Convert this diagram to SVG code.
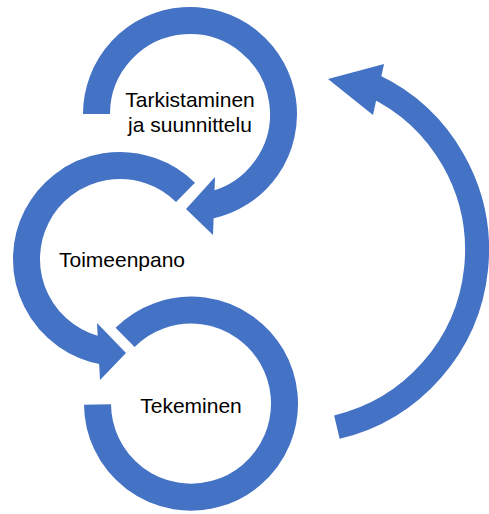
<svg xmlns="http://www.w3.org/2000/svg" width="489" height="514" viewBox="0 0 489 514">
<style>
.ring{fill:none;stroke:#4472C4;stroke-width:27;stroke-linecap:butt}
.big{fill:none;stroke:#4472C4;stroke-width:24;stroke-linecap:butt}
.head{fill:#4472C4}
.lbl{font-family:"Liberation Sans",Arial,sans-serif;font-size:21px;fill:#000;text-anchor:middle}
</style>
<rect width="489" height="514" fill="#fff"/>
<g id="node-tarkistaminen">
<path class="ring" d="M96.5,114 A93.5,93.5 0 1 1 209.4,205.5"/>
<polygon class="head" points="215,177 186,209 213,235"/>
<text class="lbl" x="190" y="107">Tarkistaminen</text>
<text class="lbl" x="190" y="132">ja suunnittelu</text>
</g>
<g id="node-toimeenpano">
<path class="ring" d="M185.5,192.3 A93.5,93.5 0 1 0 103.8,351.1"/>
<polygon class="head" points="97,323 126,353 100,380"/>
<text class="lbl" x="122" y="267">Toimeenpano</text>
</g>
<g id="node-tekeminen">
<path class="ring" d="M125.1,337.3 A93.5,93.5 0 1 1 97.5,404.5"/>
<text class="lbl" x="191" y="413">Tekeminen</text>
</g>
<g id="connectors">
<path class="big" d="M336.9,427.1 A182,182 0 0 0 371.9,85"/>
<polygon class="head" points="328,79 384,64 373,115"/>
</g>
</svg>
